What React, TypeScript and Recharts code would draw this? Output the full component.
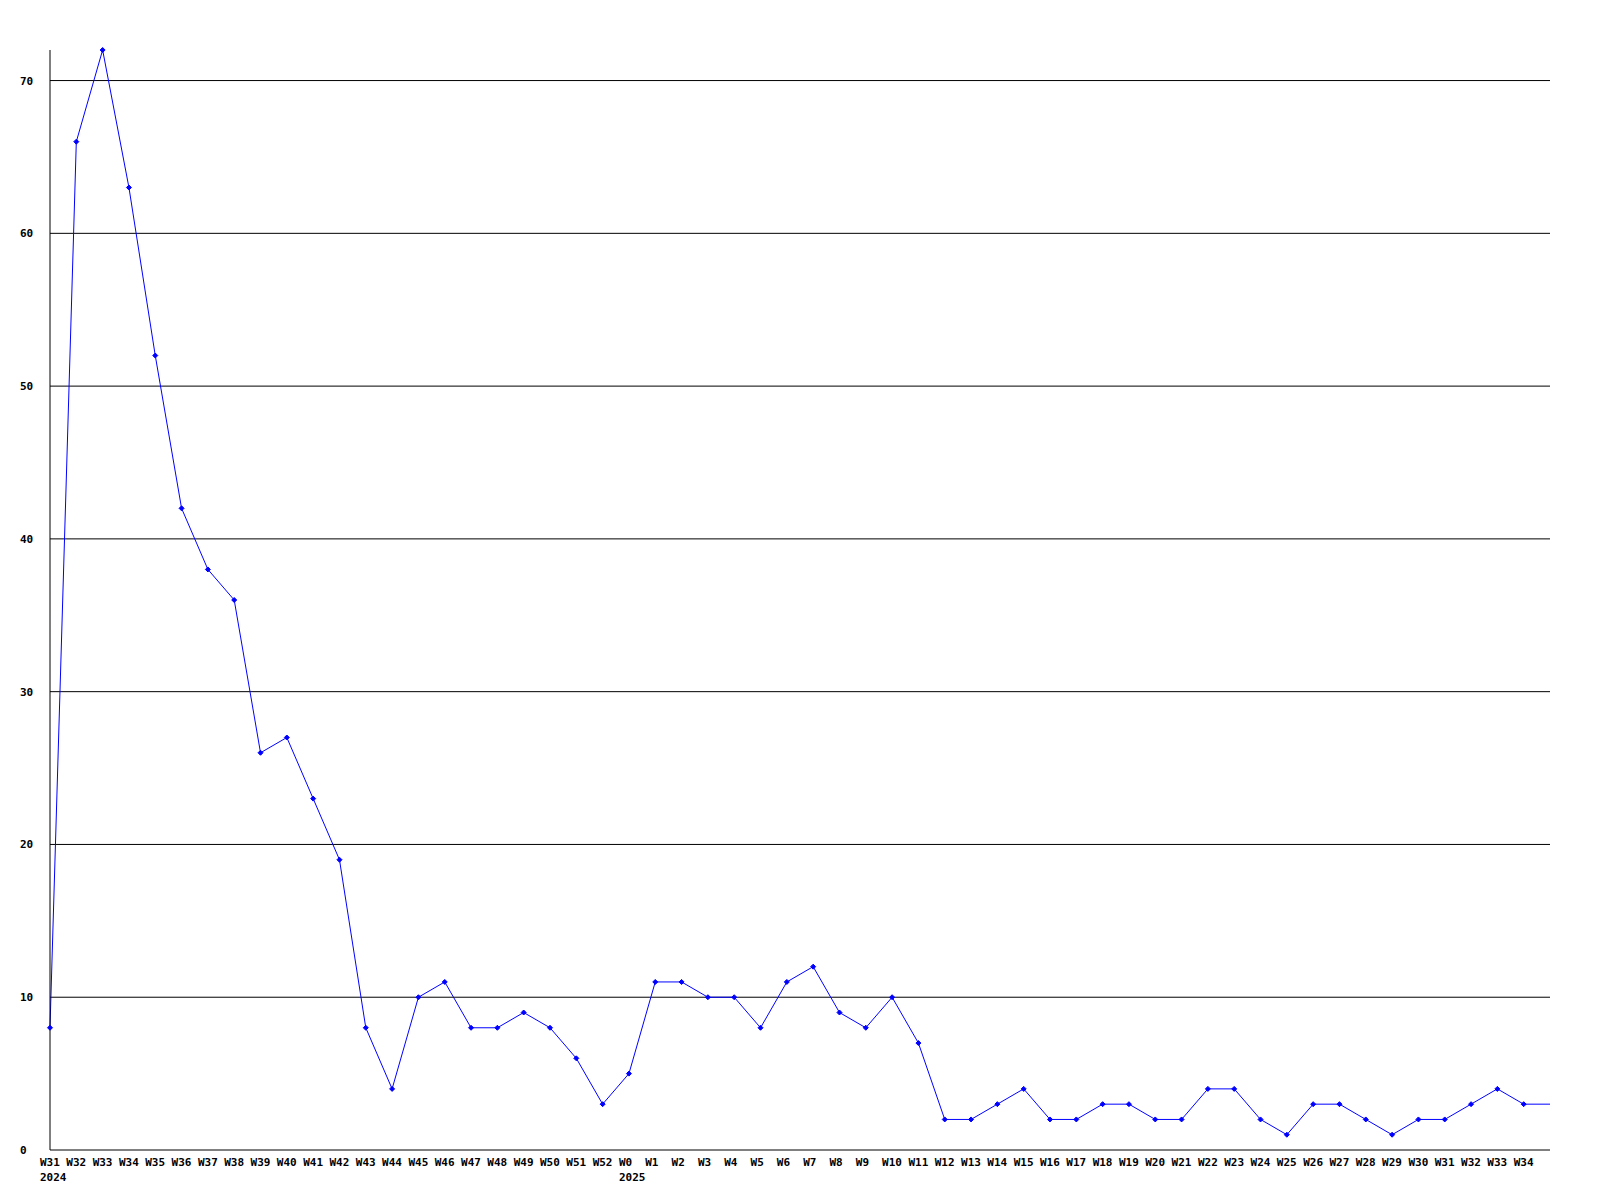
import React from "react";
import { LineChart, Line, XAxis, YAxis, CartesianGrid } from "recharts";

// week labels, 2024 W31 .. 2025 W34
const weeks = [
  "W31", "W32", "W33", "W34", "W35", "W36", "W37", "W38", "W39", "W40", "W41",
  "W42", "W43", "W44", "W45", "W46", "W47", "W48", "W49", "W50", "W51", "W52",
  "W0", "W1", "W2", "W3", "W4", "W5", "W6", "W7", "W8", "W9", "W10", "W11",
  "W12", "W13", "W14", "W15", "W16", "W17", "W18", "W19", "W20", "W21", "W22",
  "W23", "W24", "W25", "W26", "W27", "W28", "W29", "W30", "W31", "W32", "W33",
  "W34",
];

const counts = [
  8, 66, 72, 63, 52, 42, 38, 36, 26, 27, 23, 19, 8, 4, 10, 11, 8, 8, 9, 8, 6, 3,
  5, 11, 11, 10, 10, 8, 11, 12, 9, 8, 10, 7, 2, 2, 3, 4, 2, 2, 3, 3, 2, 2, 4, 4,
  2, 1, 3, 3, 2, 1, 2, 2, 3, 4, 3,
];

// current (partial) week: line continues to the right edge, no marker
const tailValue = 3;

const yearLabels: Record<number, string> = { 0: "2024", 22: "2025" };
const yTicks = [0, 10, 20, 30, 40, 50, 60, 70];

const data = [
  ...counts.map((v, i) => ({ i, v })),
  { i: counts.length, v: tailValue },
];

const FONT = "'DejaVu Sans Mono', 'Liberation Mono', monospace";

function XTick(props: any) {
  const { x, y, payload } = props;
  const idx = payload.value as number;
  const label = weeks[idx];
  if (label === undefined) return null;
  const year = yearLabels[idx];
  return (
    <g>
      <text
        x={x - 10}
        y={y + 16}
        textAnchor="start"
        fontFamily={FONT}
        fontWeight="bold"
        fontSize={11}
        fill="#000"
      >
        {label}
      </text>
      {year && (
        <text
          x={x - 10}
          y={y + 31}
          textAnchor="start"
          fontFamily={FONT}
          fontWeight="bold"
          fontSize={11}
          fill="#000"
        >
          {year}
        </text>
      )}
    </g>
  );
}

function YTick(props: any) {
  const { y, payload } = props;
  return (
    <text
      x={20}
      y={y + 4}
      textAnchor="start"
      fontFamily={FONT}
      fontWeight="bold"
      fontSize={11}
      fill="#000"
    >
      {payload.value}
    </text>
  );
}

function Marker(props: any) {
  const { cx, cy, index } = props;
  if (index >= counts.length) return <g key={`d${index}`} />;
  const r = 2.5;
  return (
    <path
      key={`d${index}`}
      d={`M${cx - r},${cy}L${cx},${cy - r}L${cx + r},${cy}L${cx},${cy + r}Z`}
      fill="#0000ff"
      stroke="#0000ff"
      strokeWidth={1}
    />
  );
}

export default function App() {
  return (
    <div style={{ position: "absolute", left: 0, top: 0, background: "#fff" }}>
      <LineChart
        width={1600}
        height={1200}
        data={data}
        margin={{ top: 50, right: 50, bottom: 0, left: 0 }}
      >
        <CartesianGrid
          vertical={false}
          stroke="#000"
          strokeWidth={1}
          horizontalValues={yTicks.slice(1)}
        />
        <XAxis
          type="number"
          dataKey="i"
          domain={[0, counts.length]}
          ticks={weeks.map((_, i) => i)}
          interval={0}
          tick={<XTick />}
          tickLine={false}
          tickSize={0}
          tickMargin={0}
          height={50}
          axisLine={{ stroke: "#000", strokeWidth: 1 }}
        />
        <YAxis
          type="number"
          domain={[0, 72]}
          ticks={yTicks}
          interval={0}
          tick={<YTick />}
          tickLine={false}
          width={50}
          axisLine={{ stroke: "#000", strokeWidth: 1 }}
        />
        <Line
          type="linear"
          dataKey="v"
          stroke="#0000ff"
          strokeWidth={1}
          dot={Marker}
          activeDot={false}
          isAnimationActive={false}
        />
      </LineChart>
    </div>
  );
}
